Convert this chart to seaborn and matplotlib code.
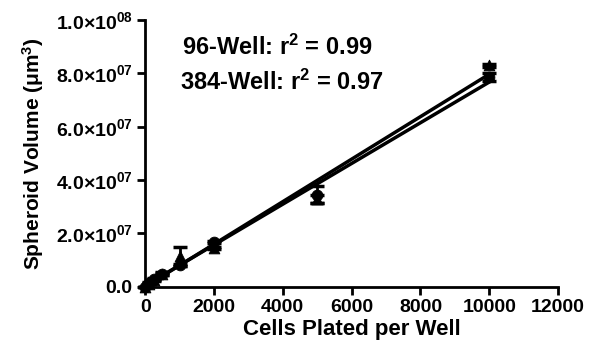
import numpy as np
import matplotlib
matplotlib.use("Agg")
import matplotlib.pyplot as plt
import matplotlib.ticker as mticker
import seaborn as sns

sns.set_style("ticks")
plt.rcParams['font.family'] = ['Liberation Sans', 'DejaVu Sans']
plt.rcParams['mathtext.fontset'] = 'custom'
plt.rcParams['mathtext.rm'] = 'Liberation Sans:bold'
plt.rcParams['mathtext.it'] = 'Liberation Sans:bold'
plt.rcParams['mathtext.bf'] = 'Liberation Sans:bold'
for k in ['text.color', 'axes.labelcolor', 'xtick.color', 'ytick.color', 'axes.edgecolor']:
    plt.rcParams[k] = 'black'

# data
cells = [0, 100, 250, 500, 1000, 2000, 5000, 10000]
vol_96 = [0.0, 1.5e6, 3.0e6, 5.0e6, 0.82e7, 1.68e7, 3.45e7, 7.85e7]
err_96 = [0.0, 0.3e6, 0.4e6, 0.5e6, 0.4e6, 0.5e6, 0.32e7, 0.15e7]
vol_384 = [0.0, 1.2e6, 2.6e6, 4.8e6, 1.15e7, 1.46e7, 3.3e7, 8.3e7]
err_384 = [0.0, 0.3e6, 0.4e6, 0.5e6, 0.35e7, 0.4e6, 0.15e7, 0.05e7]

fig = plt.figure(figsize=(5.9, 3.49), dpi=100)
ax = fig.add_axes([0.246, 0.178, 0.7, 0.765])

for y, e, m in [(vol_96, err_96, 'o'), (vol_384, err_384, '^')]:
    ax.errorbar(cells, y, yerr=e, fmt='none', ecolor='black', elinewidth=2,
                capsize=5, capthick=2.5, zorder=3, clip_on=False)
    sns.scatterplot(x=cells, y=y, marker=m, color='black', s=60,
                    edgecolor='black', ax=ax, zorder=4, clip_on=False)
    k = np.polyfit(cells, y, 1)
    xx = np.array([0, 10000])
    ax.plot(xx, np.polyval(k, xx), color='black', lw=2.5, zorder=2,
            clip_on=False)

ax.set_xlim(0, 12000)
ax.set_ylim(0, 1.0e8)
ax.set_xticks(range(0, 12001, 2000))
ax.set_yticks(np.arange(0, 1.01e8, 2e7))

def fmt(v, pos):
    if v == 0:
        return '0.0'
    e = int(np.floor(np.log10(v)))
    return r'%.1f$\times$10$^{%02d}$' % (v / 10**e, e)

ax.yaxis.set_major_formatter(mticker.FuncFormatter(fmt))
ax.tick_params(width=2, length=6, labelsize=14, direction='out', pad=3)
for lab in ax.get_xticklabels() + ax.get_yticklabels():
    lab.set_fontweight('bold')
for s in ['left', 'bottom']:
    ax.spines[s].set_linewidth(2)
sns.despine(ax=ax)

ax.set_xlabel('Cells Plated per Well', fontsize=16, fontweight='bold',
              labelpad=2)
ax.set_ylabel(r'Spheroid Volume ($\mu$m$^3$)', fontsize=15,
              fontweight='bold')
ax.yaxis.set_label_coords(-0.24, 0.5)
ax.text(0.089, 0.899, r'96-Well: r$^2$ = 0.99', transform=ax.transAxes,
        fontsize=17, fontweight='bold', va='center')
ax.text(0.085, 0.766, r'384-Well: r$^2$ = 0.97', transform=ax.transAxes,
        fontsize=17, fontweight='bold', va='center')

fig.savefig('out.png', dpi=100)
